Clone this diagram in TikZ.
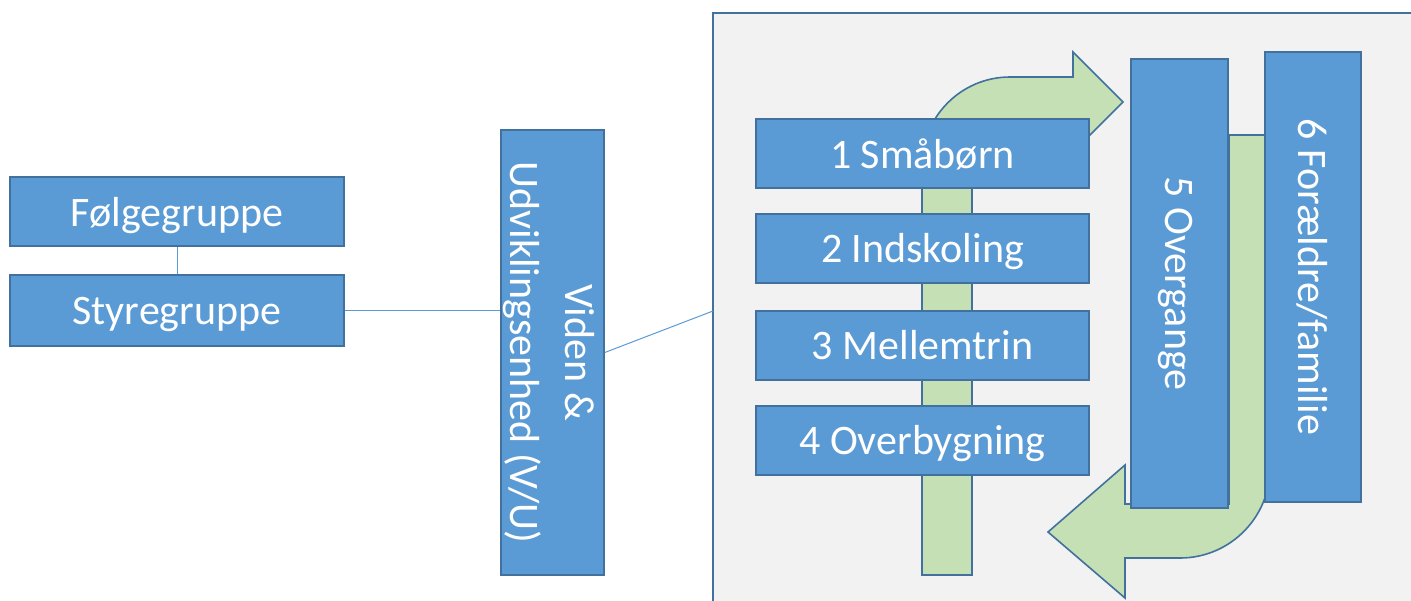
\documentclass[tikz,border=0pt]{standalone}
\usepackage{fontspec}
\setmainfont{Carlito}
\definecolor{boxfill}{HTML}{5B9BD5}
\definecolor{boxline}{HTML}{41719C}
\definecolor{arrowfill}{HTML}{C5E0B4}
\definecolor{panelfill}{HTML}{F2F2F2}
\definecolor{linkline}{HTML}{5B9BD5}
\tikzset{
  box/.style={draw=boxline, line width=1.6pt, fill=boxfill, inner sep=0pt},
  txt/.style={text=white, font=\fontsize{42}{55}\selectfont, inner sep=0pt, anchor=base},
  link/.style={draw=linkline, line width=1pt},
  greenarrow/.style={fill=arrowfill, draw=boxline, line width=1.6pt, line join=miter}
}
\begin{document}
\begin{tikzpicture}[x=1pt,y=-1pt]
\path[use as bounding box, clip] (0,0) rectangle (1411,600);
\fill[white] (0,0) rectangle (1411,600);
% panel
\draw[fill=panelfill, draw=boxline, line width=1.8pt] (713,13) rectangle (1430,620);
\coordinate (pin) at (713,311);
% green arrow 1
\draw[greenarrow] (922,575) -- (922,165) arc[start angle=180, end angle=270, radius=88]
  -- (1073,77) -- (1073,52) -- (1123,102) -- (1073,152) -- (1073,127) -- (1010,127)
  arc[start angle=270, end angle=180, radius=38] -- (972,575) -- cycle;
% green arrow 2
\draw[greenarrow] (1229,135) -- (1270,135) -- (1270,468)
  arc[start angle=0, end angle=90, radius=90]
  -- (1125,558) -- (1125,598) -- (1048,532) -- (1125,465) -- (1125,504) -- (1229,504) -- cycle;
% left boxes
\node[box, minimum width=334pt, minimum height=69pt] (f) at (177,211.5) {};
\path (f.center) ++(0,14.5) node[txt] {Følgegruppe};
\node[box, minimum width=334pt, minimum height=71pt] (s) at (177,310.5) {};
\path (s.center) ++(0,13.5) node[txt] {Styregruppe};
\node[box, minimum width=103pt, minimum height=445pt] (vu) at (552.5,352.5) {};
\path (vu.center) ++(12.5,0) node[txt, rotate=-90] {Viden \&};
\path (vu.center) ++(-42.5,0) node[txt, rotate=-90] {Udviklingsenhed (V/U)};
% panel boxes
\node[box, minimum width=333pt, minimum height=69pt] (b1) at (922.5,153.5) {};
\path (b1.center) ++(0,14.5) node[txt] {1 Småbørn};
\node[box, minimum width=333pt, minimum height=69pt] (b2) at (922.5,248.5) {};
\path (b2.center) ++(0,14) node[txt] {2 Indskoling};
\node[box, minimum width=333pt, minimum height=69pt] (b3) at (922.5,345.5) {};
\path (b3.center) ++(0,14) node[txt] {3 Mellemtrin};
\node[box, minimum width=333pt, minimum height=69pt] (b4) at (922.5,440.5) {};
\path (b4.center) ++(0,14) node[txt] {4 Overbygning};
\node[box, minimum width=97pt, minimum height=449pt] (b5) at (1179.5,283.5) {};
\path (b5.center) ++(-14.5,0) node[txt, rotate=-90] {5 Overgange};
\node[box, minimum width=96pt, minimum height=450pt] (b6) at (1313,277) {};
\path (b6.center) ++(-15,0) node[txt, rotate=-90] {6 Forældre/familie};
% connectors
\draw[link] (f.south) -- (s.north);
\draw[link] (s.east) -- (s.east -| vu.west);
\draw[link] (vu.east) -- (pin);
\end{tikzpicture}
\end{document}
